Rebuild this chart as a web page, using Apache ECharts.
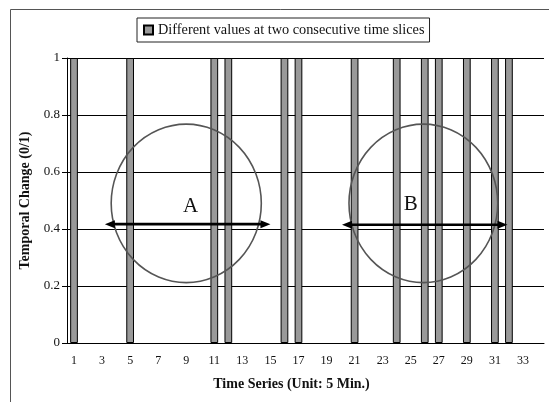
<!DOCTYPE html>
<html>
<head>
<meta charset="utf-8">
<script src="https://cdn.jsdelivr.net/npm/echarts@6/dist/echarts.min.js"></script>
<style>
  html, body { margin: 0; padding: 0; background: #fff; }
  #chart { width: 549px; height: 402px; }
</style>
</head>
<body>
<div id="chart"></div>
<script>
// time slices 1..34
var categories = ['1', '2', '3', '4', '5', '6', '7', '8', '9', '10', '11', '12', '13', '14', '15', '16', '17',
  '18', '19', '20', '21', '22', '23', '24', '25', '26', '27', '28', '29', '30', '31', '32', '33', '34'];
// 1 = value changed between two consecutive slices
var changeValues = [1, 0, 0, 0, 1, 0, 0, 0, 0, 0, 1, 1, 0, 0, 0, 1, 1,
  0, 0, 0, 1, 0, 0, 1, 0, 1, 1, 0, 1, 0, 1, 1, 0, 0];
var yTicks = [0, 0.2, 0.4, 0.6, 0.8, 1];

// annotation groups A and B (x in slice units, y in value units)
var groupNames = ['A', 'B'];
var circleX = [9, 25.9];
var circleY = [0.49, 0.49];
var circleRx = [5.35, 5.3];
var circleRy = [0.278, 0.278];
var arrowY = [0.417, 0.415];
var arrowFrom = [3.2, 20.1];
var arrowTo = [15.0, 31.9];
var letterX = [9.3, 25.0];
var letterY = [0.478, 0.485];

var serif = '"Liberation Serif", "DejaVu Serif", serif';

var annot = groupNames.map(function (n, i) {
  return [circleX[i], circleY[i], circleRx[i], circleRy[i], arrowFrom[i], arrowTo[i], arrowY[i], letterX[i], letterY[i]];
});

function renderGroup(params, api) {
  var c = api.coord([api.value(0), api.value(1)]);
  var r = api.size([api.value(2), api.value(3)]);
  var a1 = api.coord([api.value(4), api.value(6)]);
  var a2 = api.coord([api.value(5), api.value(6)]);
  var t = api.coord([api.value(7), api.value(8)]);
  var hl = 10, hw = 4;
  return {
    type: 'group',
    children: [{
      type: 'circle',
      x: c[0], y: c[1],
      scaleY: r[1] / r[0],
      shape: { cx: 0, cy: 0, r: r[0] },
      style: { fill: 'none', stroke: '#555', lineWidth: 1.6 }
    }, {
      type: 'line',
      shape: { x1: a1[0] + hl - 2, y1: a1[1], x2: a2[0] - hl + 2, y2: a2[1] },
      style: { stroke: '#000', lineWidth: 2.6 }
    }, {
      type: 'polygon',
      shape: { points: [[a1[0], a1[1]], [a1[0] + hl, a1[1] - hw], [a1[0] + hl, a1[1] + hw]] },
      style: { fill: '#000' }
    }, {
      type: 'polygon',
      shape: { points: [[a2[0], a2[1]], [a2[0] - hl, a2[1] - hw], [a2[0] - hl, a2[1] + hw]] },
      style: { fill: '#000' }
    }, {
      type: 'text',
      x: t[0], y: t[1],
      style: {
        text: groupNames[params.dataIndex],
        fill: '#111', font: '21px ' + serif,
        align: 'center', verticalAlign: 'middle'
      }
    }]
  };
}

var option = {
  animation: false,
  backgroundColor: '#fff',
  graphic: [{
    type: 'rect',
    left: 8, top: 7,
    shape: { width: 700, height: 600 },
    style: { fill: 'none', stroke: '#555', lineWidth: 1 }
  }],
  legend: {
    top: 18,
    left: 137,
    data: ['Different values at two consecutive time slices'],
    icon: 'rect',
    itemWidth: 9,
    itemHeight: 9,
    borderColor: '#222',
    borderWidth: 1,
    padding: [5, 5, 5, 6],
    textStyle: { fontFamily: serif, fontSize: 14.3, color: '#111' }
  },
  grid: { left: 67, right: 5, top: 58, bottom: 59 },
  xAxis: [{
    type: 'category',
    data: categories,
    name: 'Time Series (Unit: 5 Min.)',
    nameLocation: 'middle',
    nameGap: 34,
    nameTextStyle: { fontFamily: serif, fontSize: 14, fontWeight: 'bold', color: '#111', padding: [0, 28, 0, 0] },
    axisLine: { lineStyle: { color: '#000', width: 1 } },
    axisTick: { length: 4, lineStyle: { color: '#000' } },
    axisLabel: { interval: 1, margin: 12, fontFamily: serif, fontSize: 12, color: '#111' },
    splitLine: { show: false }
  }, {
    type: 'value',
    min: 0.5,
    max: 34.5,
    show: false
  }],
  yAxis: {
    type: 'value',
    min: yTicks[0],
    max: yTicks[yTicks.length - 1],
    interval: 0.2,
    name: 'Temporal Change (0/1)',
    nameLocation: 'middle',
    nameGap: 34,
    nameTextStyle: { fontFamily: serif, fontSize: 14, fontWeight: 'bold', color: '#111' },
    axisLine: { show: true, lineStyle: { color: '#000', width: 1 } },
    axisTick: { show: true, length: 5, lineStyle: { color: '#000' } },
    axisLabel: { margin: 7, fontFamily: serif, fontSize: 13, color: '#111' },
    splitLine: { lineStyle: { color: '#000', width: 1 } }
  },
  series: [{
    name: 'Different values at two consecutive time slices',
    type: 'bar',
    // zero slices carry no bar, so skip them (avoids a border line on the axis)
    data: changeValues.map(function (v) { return v === 0 ? '-' : v; }),
    barWidth: '55%',
    itemStyle: { color: '#999', borderColor: '#000', borderWidth: 1 }
  }, {
    type: 'custom',
    xAxisIndex: 1,
    yAxisIndex: 0,
    renderItem: renderGroup,
    data: annot,
    silent: true,
    z: 5
  }]
};

var chart = echarts.init(document.getElementById('chart'));
chart.setOption(option);
</script>
</body>
</html>
